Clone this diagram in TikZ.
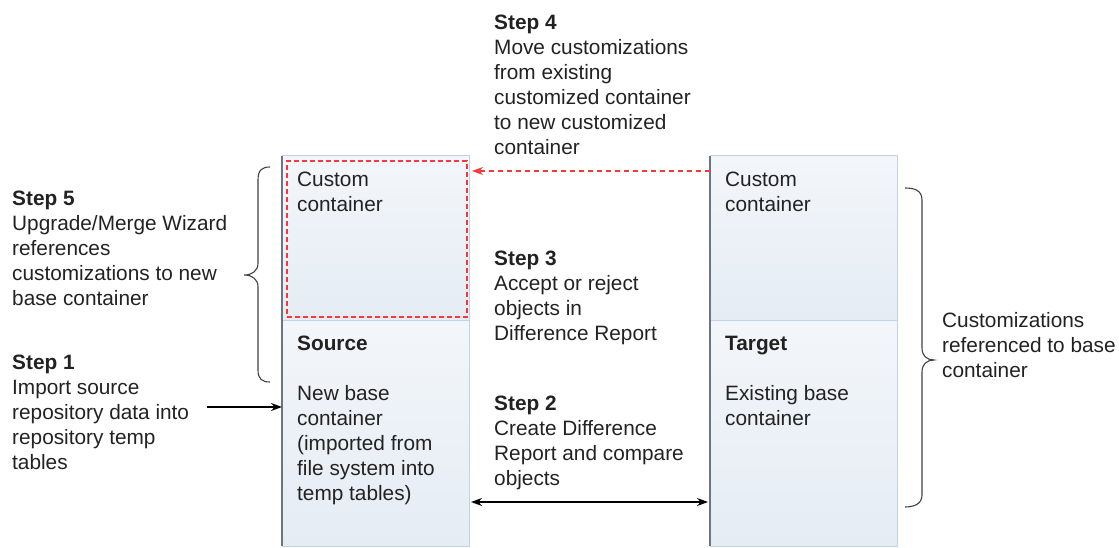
\documentclass[tikz,border=0pt]{standalone}
\usepackage{fontspec}
\setmainfont{Liberation Sans}
\usetikzlibrary{arrows.meta,calc}
\definecolor{boxborder}{HTML}{BFD2E6}
\definecolor{boxtop}{HTML}{F3F6FA}
\definecolor{boxbot}{HTML}{E5ECF4}
\definecolor{edgegray}{HTML}{6E757C}
\definecolor{dashred}{HTML}{F5383C}
\definecolor{txtgray}{HTML}{222222}
\tikzset{
  panel/.style={draw=boxborder, line width=1pt, top color=boxtop, bottom color=boxbot,
    minimum width=187pt, inner sep=0pt, anchor=north west, outer sep=0pt},
  txt/.style={anchor=north west, align=left, inner sep=0pt, text=txtgray,
    font=\fontsize{20.8}{25}\selectfont, execute at begin node=\strut},
  darkedge/.style={draw=edgegray, line width=1.4pt},
  brace/.style={draw=black!75, line width=1.1pt},
  conn/.style={draw=black, line width=1.3pt, -{Stealth[length=11pt,width=8pt]}},
  dconn/.style={draw=black, line width=1.3pt, {Stealth[length=11pt,width=8pt]}-{Stealth[length=11pt,width=8pt]}},
  redconn/.style={draw=dashred, line width=1.5pt, dash pattern=on 5pt off 4pt, -{Stealth[length=11pt,width=8pt]}},
}
\begin{document}
\begin{tikzpicture}[x=1pt,y=-1pt]
\useasboundingbox (0,0) rectangle (1119,548);
% containers
\node[panel, minimum height=164pt] (scust) at (282,156) {};
\node[panel, minimum height=226pt] (sbase) at (282,320) {};
\node[panel, minimum height=164pt] (tcust) at (710,156) {};
\node[panel, minimum height=226pt] (tbase) at (710,320) {};
\draw[darkedge] (scust.north west) -- (sbase.south west);
\draw[darkedge] (tcust.north west) -- (tbase.south west);
% red dashed new custom container
\node[draw=dashred, line width=1.6pt, dash pattern=on 5pt off 3pt, minimum width=180pt, minimum height=156pt, inner sep=0pt, anchor=north west] (newcust) at (286,160) {};
% texts inside boxes
\node[txt] (t_sc) at (297,171.5) {Custom\\container};
\node[txt] (t_src) at (297,335.5) {\textbf{Source}\\[25pt]New base\\container\\(imported from\\file system into\\temp tables)};
\node[txt] (t_tc) at (725,171.5) {Custom\\container};
\node[txt] (t_tgt) at (725,335.5) {\textbf{Target}\\[25pt]Existing base\\container};
% steps
\node[txt] (s4) at (494,14.5) {\textbf{Step 4}\\Move customizations\\from existing\\customized container\\to new customized\\container};
\node[txt] (s5) at (12,190.5) {\textbf{Step 5}\\Upgrade/Merge Wizard\\references\\customizations to new\\base container};
\node[txt] (s1) at (12,355) {\textbf{Step 1}\\Import source\\repository data into\\repository temp\\tables};
\node[txt] (s3) at (494,250.5) {\textbf{Step 3}\\Accept or reject\\objects in\\Difference Report};
\node[txt] (s2) at (494,396) {\textbf{Step 2}\\Create Difference\\Report and compare\\objects};
\node[txt] (cref) at (942,312) {Customizations\\referenced to base\\container};
% connectors
\coordinate (a1) at (207,407);
\draw[conn] (a1) -- (a1 -| sbase.west);
\coordinate (r1) at ($(tcust.north west)+(0,15)$);
\draw[redconn] (r1) -- ($(r1 -| scust.east)+(3,0)$);
\coordinate (d1) at ($(sbase.south east)+(0,-44)$);
\coordinate (d2) at ($(tbase.south west)+(0,-44)$);
\draw[dconn] ($(d1)+(2,0)$) -- ($(d2)+(-2,0)$);
% braces
\draw[brace] (270,167) .. controls (262,167) and (258,170) .. (258,180) -- (258,263)
  .. controls (258,271) and (252,275) .. (244,275) .. controls (252,275) and (258,279) .. (258,287)
  -- (258,370) .. controls (258,379) and (262,382) .. (270,382);
\draw[brace] (905,188) .. controls (914,188) and (922,190) .. (922,200) -- (922,348)
  .. controls (922,356) and (927,360) .. (934,360) .. controls (927,360) and (922,364) .. (922,372)
  -- (922,495) .. controls (922,504) and (914,507) .. (905,507);
\end{tikzpicture}
\end{document}
